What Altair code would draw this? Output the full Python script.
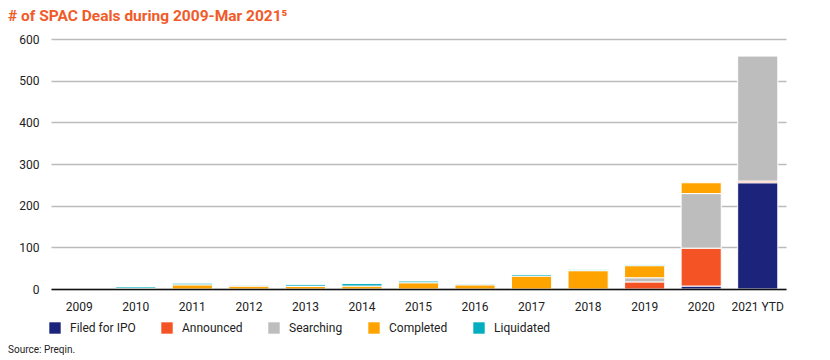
import altair as alt
import pandas as pd

years = ["2009", "2010", "2011", "2012", "2013", "2014", "2015", "2016",
         "2017", "2018", "2019", "2020", "2021 YTD"]
statuses = ["Filed for IPO", "Announced", "Searching", "Completed", "Liquidated"]
colors = ["#1B237A", "#F45425", "#BDBDBD", "#FFA300", "#00AEC0"]

filed      = [0, 0, 0, 0, 0, 0, 0, 0, 0, 0, 0, 7, 255]
announced  = [0, 0, 0, 0, 0, 0, 0, 0, 0, 0, 17, 91, 4]
searching  = [0, 0, 0, 0, 0, 0, 0, 0, 0, 0, 10, 131, 300]
completed  = [0, 1, 10, 7, 6, 7, 15, 10, 31, 44, 29, 26, 0]
liquidated = [0, 4, 4, 2, 4, 6, 4, 2, 4, 2, 3, 0, 0]

series = [filed, announced, searching, completed, liquidated]
rows = []
for si, (name, vals) in enumerate(zip(statuses, series)):
    for y, v in zip(years, vals):
        rows.append({"year": y, "status": name, "value": v, "ord": si})
df = pd.DataFrame(rows)

FONT = "Roboto"

bars = alt.Chart(df).transform_filter("datum.value > 0").mark_bar(
    stroke="white", strokeWidth=1
).encode(
    x=alt.X("year:N", sort=years, title=None,
            scale=alt.Scale(domain=years, paddingInner=0.29, paddingOuter=0.145),
            axis=alt.Axis(labelAngle=0, ticks=False, domain=True, domainColor="#111111",
                          domainWidth=1.5, labelPadding=12, labelFontSize=12,
                          labelColor="#222222", labelFont=FONT, grid=False, zindex=1)),
    y=alt.Y("value:Q", stack="zero", title=None,
            scale=alt.Scale(domain=[0, 600], nice=False),
            axis=alt.Axis(values=[0, 100, 200, 300, 400, 500, 600], ticks=False, domain=False,
                          grid=True, gridColor="#BBBBBB", gridWidth=1.5, labelPadding=12,
                          labelFontSize=12, labelColor="#222222", labelFont=FONT)),
    color=alt.Color("status:N", sort=statuses,
                    scale=alt.Scale(domain=statuses, range=colors),
                    legend=alt.Legend(title=None, orient="none", legendX=-2, legendY=283,
                                      direction="horizontal", symbolType="square",
                                      symbolSize=130, symbolStrokeWidth=0, labelFontSize=12,
                                      labelColor="#222222", labelFont=FONT, labelOffset=9,
                                      columnPadding=25, symbolOpacity=1)),
    order=alt.Order("ord:Q", sort="ascending"),
)

source = alt.Chart(pd.DataFrame({"t": ["Source: Preqin."]})).mark_text(
    align="left", baseline="middle", fontSize=10, font=FONT, color="#222222"
).encode(text="t:N", x=alt.value(-43), y=alt.value(311))

chart = alt.layer(bars, source).properties(
    width=735, height=250,
    autosize=alt.AutoSizeParams(type="none"),
    padding={"left": 43, "top": 31, "right": 36, "bottom": 72},
    title=alt.TitleParams("# of SPAC Deals during 2009-Mar 2021\u2075", anchor="start",
                          frame="group", fontSize=15.5, fontWeight="bold", color="#F15A29",
                          font=FONT, dx=-43, offset=9),
).configure_view(stroke=None)

chart.save("out.html", embed_options={"renderer": "svg", "actions": False})
